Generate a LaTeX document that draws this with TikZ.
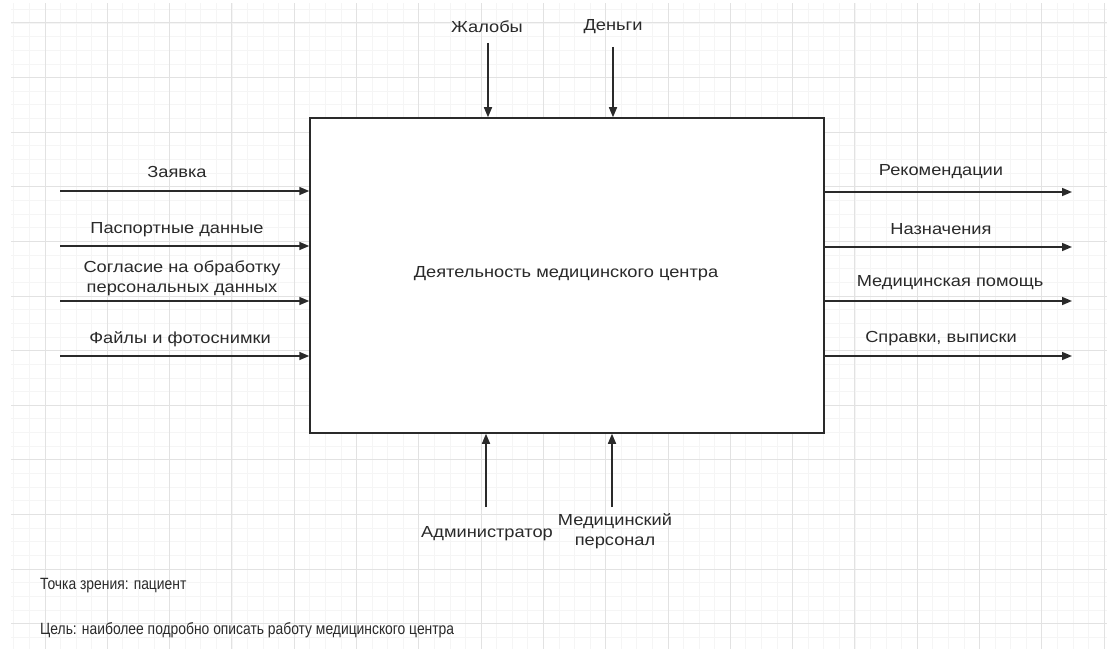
\documentclass[tikz,border=0pt]{standalone}
\usepackage{fontspec}
\setmainfont{Liberation Sans}
\newfontfamily\lblfont[FakeStretch=1.14]{Liberation Sans}
\newfontfamily\notefont[FakeStretch=0.85]{Liberation Sans}
\usetikzlibrary{arrows.meta}
\definecolor{ink}{HTML}{2A2A2A}
\definecolor{gmajor}{HTML}{E2E2E2}
\definecolor{gminor}{HTML}{F5F5F5}
\tikzset{
  arr/.style={draw=ink, line width=1.5pt, -{Triangle[length=10pt,width=8pt]}},
  lbl/.style={text=ink, font=\lblfont\fontsize{16}{20}\selectfont, align=center, inner sep=1pt},
  note/.style={text=ink, font=\notefont\fontsize{16.3}{20}\selectfont, anchor=west, inner sep=0pt},
  funcbox/.style={draw=ink, line width=1.5pt, fill=white, minimum width=514pt, minimum height=315pt, inner sep=0pt},
}
\begin{document}
\begin{tikzpicture}[x=1pt,y=-1pt]
\useasboundingbox (0,0) rectangle (1107,652);
\fill[white] (0,0) rectangle (1107,652);
% grid
\begin{scope}
\clip (11,4) rectangle (1107,648);
\foreach \k in {-2,...,68} {\draw[gminor, line width=0.8pt] ({45+15.575*\k},0) -- ({45+15.575*\k},652);}
\foreach \k in {-2,...,47} {\draw[gminor, line width=0.8pt] (0,{23+13.65*\k}) -- (1107,{23+13.65*\k});}
\foreach \k in {-1,...,17} {\draw[gmajor, line width=1pt] ({45+62.3*\k},0) -- ({45+62.3*\k},652);}
\foreach \k in {-1,...,12} {\draw[gmajor, line width=1pt] (0,{23+54.6*\k}) -- (1107,{23+54.6*\k});}
\end{scope}
% main box
\node[funcbox] (box) at (567,275.5) {};
\node[lbl] (title) at (566,274) {Деятельность медицинского центра};
% inputs
\coordinate (i1) at (60,191);
\coordinate (i2) at (60,246);
\coordinate (i3) at (60,301);
\coordinate (i4) at (60,356);
\foreach \c in {i1,i2,i3,i4} {\draw[arr] (\c) -- (\c -| box.west);}
\node[lbl] (li1) at (177,172) {Заявка};
\node[lbl] (li2) at (177,230) {Паспортные данные};
\node[lbl] (li3) at (182,278) {Согласие на обработку\\персональных данных};
\node[lbl] (li4) at (180,339) {Файлы и фотоснимки};
% outputs
\coordinate (o1) at (1072,192);
\coordinate (o2) at (1072,247);
\coordinate (o3) at (1072,301);
\coordinate (o4) at (1072,356);
\foreach \c in {o1,o2,o3,o4} {\draw[arr] (\c -| box.east) -- (\c);}
\node[lbl] (lo1) at (941,172) {Рекомендации};
\node[lbl] (lo2) at (941,229) {Назначения};
\node[lbl] (lo3) at (950,283) {Медицинская помощь};
\node[lbl] (lo4) at (941,339) {Справки, выписки};
% controls
\coordinate (t1) at (488,43);
\coordinate (t2) at (613,47);
\foreach \c in {t1,t2} {\draw[arr] (\c) -- (\c |- box.north);}
\node[lbl] (lt1) at (487,27) {Жалобы};
\node[lbl] (lt2) at (613,27) {Деньги};
% mechanisms
\coordinate (b1) at (486,507);
\coordinate (b2) at (612,507);
\foreach \c in {b1,b2} {\draw[arr] (\c) -- (\c |- box.south);}
\node[lbl] (lb1) at (487,534) {Администратор};
\node[lbl] (lb2) at (615,531) {Медицинский\\персонал};
% notes
\node[note] (n1) at (40,586) {Точка зрения: пациент};
\node[note] (n2) at (40,630) {Цель: наиболее подробно описать работу медицинского центра};
\end{tikzpicture}
\end{document}
